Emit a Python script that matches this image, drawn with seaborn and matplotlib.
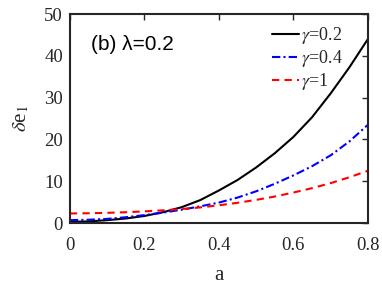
import numpy as np
import pandas as pd
import matplotlib
matplotlib.use("Agg")
import matplotlib.pyplot as plt
import seaborn as sns

a_vals = [0.0, 0.05, 0.1, 0.15, 0.2, 0.25, 0.3, 0.35, 0.4, 0.45, 0.5, 0.55, 0.6, 0.65, 0.7, 0.75, 0.8]
gamma02 = [0.3, 0.4, 0.7, 1.1, 1.7, 2.6, 3.8, 5.5, 7.8, 10.3, 13.3, 16.7, 20.6, 25.3, 31.0, 37.2, 44.0]
gamma04 = [0.7, 0.8, 1.0, 1.4, 1.9, 2.5, 3.2, 4.0, 4.9, 6.1, 7.6, 9.4, 11.4, 13.6, 16.2, 19.5, 23.5]
gamma1 = [2.3, 2.35, 2.45, 2.6, 2.8, 3.05, 3.35, 3.75, 4.25, 4.85, 5.55, 6.35, 7.3, 8.35, 9.55, 10.95, 12.5]
labels = ["$\\gamma$=0.2", "$\\gamma$=0.4", "$\\gamma$=1"]
xticks = [0, 0.2, 0.4, 0.6, 0.8]
yticks = [0, 10, 20, 30, 40, 50]

sns.set_theme(style="white")
plt.rcParams["font.family"] = ["Liberation Serif", "DejaVu Serif"]
plt.rcParams["mathtext.fontset"] = "stix"

fig = plt.figure(figsize=(3.82, 2.86), dpi=100)
ax = fig.add_axes([0.183, 0.220, 0.780, 0.731])

styles = [("black", "-"), ("#0000ff", (0, (4, 1.5, 1, 1.5))), ("#ff0000", (0, (3.5, 2.5)))]
for ys, lab, (c, ls) in zip([gamma02, gamma04, gamma1], labels, styles):
    df = pd.DataFrame({"a": a_vals, "v": ys})
    sns.lineplot(data=df, x="a", y="v", ax=ax, color=c, linestyle=ls, linewidth=1.5, label=lab)

ax.set_xlim(0, 0.8)
ax.set_ylim(0, 50)
ax.set_xticks(xticks)
ax.set_xticklabels(["0", "0.2", "0.4", "0.6", "0.8"])
ax.set_yticks(yticks)
ax.tick_params(direction="in", top=True, right=True, length=4, width=1.0,
               labelsize=13.5, color="#262626", labelcolor="#262626")
ax.tick_params(axis="x", pad=10)
ax.tick_params(axis="y", pad=5)
for s in ax.spines.values():
    s.set_linewidth(1.5)
    s.set_color("#262626")
ax.set_xlabel("a", fontsize=15, color="#262626", labelpad=9)
ax.set_ylabel("$\\delta$e$_1$", fontsize=15, color="#262626", labelpad=9)
ax.text(0.07, 0.83, "(b) λ=0.2", transform=ax.transAxes, fontsize=15,
        family=["Liberation Sans", "DejaVu Sans"], color="black")
leg = ax.legend(loc="upper right", bbox_to_anchor=(0.94, 0.98), frameon=False, fontsize=13,
                handlelength=1.5, handletextpad=0.1, labelspacing=0.1, borderaxespad=0.0)
for t in leg.get_texts():
    t.set_color("#262626")
fig.savefig("out.png", dpi=100)
